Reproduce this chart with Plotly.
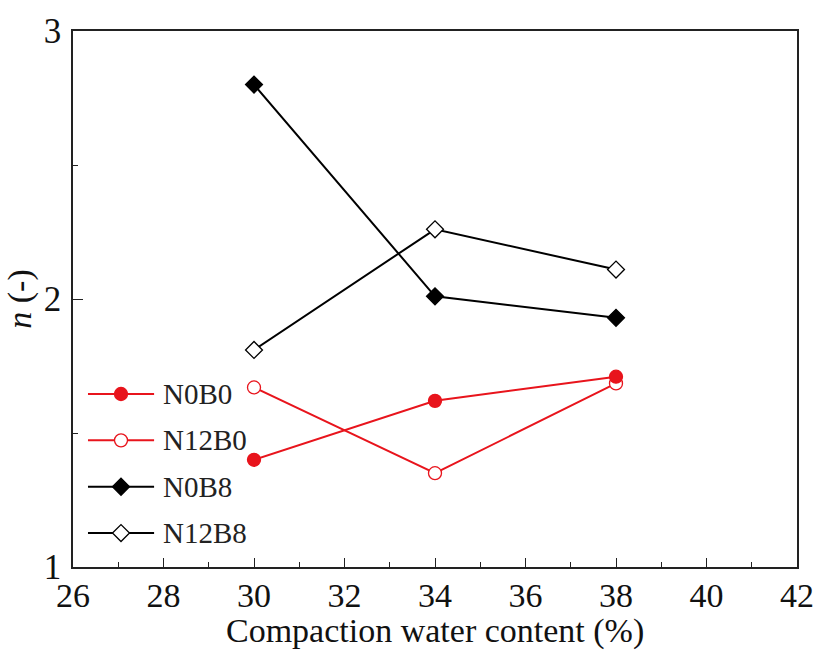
import plotly.graph_objects as go

# ---- data ----
water_content = [30, 34, 38]
n_N0B0 = [1.40, 1.62, 1.71]
n_N12B0 = [1.67, 1.35, 1.685]
n_N0B8 = [2.80, 2.01, 1.93]
n_N12B8 = [1.81, 2.26, 2.11]

series_names = ["N0B0", "N12B0", "N0B8", "N12B8"]
x_ticks = [26, 28, 30, 32, 34, 36, 38, 40, 42]
y_ticks = [1, 2, 3]
x_title = "Compaction water content (%)"
y_title = "<i>n</i> (-)"

RED = "#e8141c"
BLACK = "#000000"
FONT = "Liberation Serif"

styles = {
    "N0B0": dict(color=RED, symbol="circle", fill=RED, size=13),
    "N12B0": dict(color=RED, symbol="circle", fill="white", size=13),
    "N0B8": dict(color=BLACK, symbol="diamond", fill=BLACK, size=13),
    "N12B8": dict(color=BLACK, symbol="diamond", fill="white", size=13),
}
values = {"N0B0": n_N0B0, "N12B0": n_N12B0, "N0B8": n_N0B8, "N12B8": n_N12B8}

fig = go.Figure()
for name in ["N12B8", "N0B8", "N12B0", "N0B0"]:
    s = styles[name]
    fig.add_trace(go.Scatter(
        x=water_content, y=values[name], name=name, mode="lines+markers",
        line=dict(color=s["color"], width=2),
        marker=dict(symbol=s["symbol"], size=s["size"], color=s["fill"],
                    line=dict(color=s["color"], width=1.3)),
        showlegend=False,
    ))

# ---- custom legend (long line sample like the original) ----
shapes = []
annotations = []
row_top = 0.3228
row_gap = 0.0865
lx0, lx1, lxm, ltext = 0.0207, 0.112, 0.0663, 0.121
for i, name in enumerate(series_names):
    s = styles[name]
    yy = row_top - i * row_gap
    shapes.append(dict(type="line", xref="paper", yref="paper", x0=lx0, x1=lx1,
                       y0=yy, y1=yy, line=dict(color=s["color"], width=2)))
    if s["symbol"] == "circle":
        shapes.append(dict(type="circle", xref="paper", yref="paper",
                           xsizemode="pixel", ysizemode="pixel",
                           xanchor=lxm, yanchor=yy, x0=-6.5, x1=6.5, y0=-6.5, y1=6.5,
                           fillcolor=s["fill"], line=dict(color=s["color"], width=1.3)))
    else:
        shapes.append(dict(type="path", xref="paper", yref="paper",
                           xsizemode="pixel", ysizemode="pixel",
                           xanchor=lxm, yanchor=yy,
                           path="M -8.5 0 L 0 8.5 L 8.5 0 L 0 -8.5 Z",
                           fillcolor=s["fill"], line=dict(color=s["color"], width=1.3)))
    annotations.append(dict(xref="paper", yref="paper", x=ltext, y=yy, text=name,
                            showarrow=False, xanchor="left", yanchor="middle",
                            font=dict(family=FONT, size=29, color="#222")))

# x axis title placed below the tick labels
annotations.append(dict(xref="paper", yref="paper", x=0.5, y=-0.1586, text=x_title,
                        showarrow=False, xanchor="center", yanchor="bottom",
                        font=dict(family=FONT, size=34, color="#111")))

fig.update_layout(
    width=816, height=652,
    margin=dict(l=73, r=19, t=31, b=85),
    paper_bgcolor="white", plot_bgcolor="white",
    font=dict(family=FONT, color="#111"),
    shapes=shapes, annotations=annotations,
    xaxis=dict(
        range=[26, 42], tickvals=x_ticks, ticks="inside", ticklen=9, tickwidth=1.3,
        tickcolor="#222", showline=True, linecolor="#222", linewidth=1.5, mirror=True,
        showgrid=False, zeroline=False, automargin=False, ticklabelstandoff=-3,
        tickfont=dict(family=FONT, size=34),
        minor=dict(dtick=1, ticks="inside", ticklen=5, tickwidth=1.3, tickcolor="#222"),
    ),
    yaxis=dict(
        range=[1, 3], tickvals=y_ticks, ticks="inside", ticklen=10, tickwidth=1.3,
        tickcolor="#222", showline=True, linecolor="#222", linewidth=1.5, mirror=True,
        showgrid=False, zeroline=False, automargin=False, ticklabelstandoff=3,
        tickfont=dict(family=FONT, size=35),
        minor=dict(tickvals=[1.5, 2.5], ticks="inside", ticklen=5, tickwidth=1.3, tickcolor="#222"),
        title=dict(text=y_title, font=dict(family=FONT, size=34), standoff=2),
    ),
)

fig.write_html("out.html")
